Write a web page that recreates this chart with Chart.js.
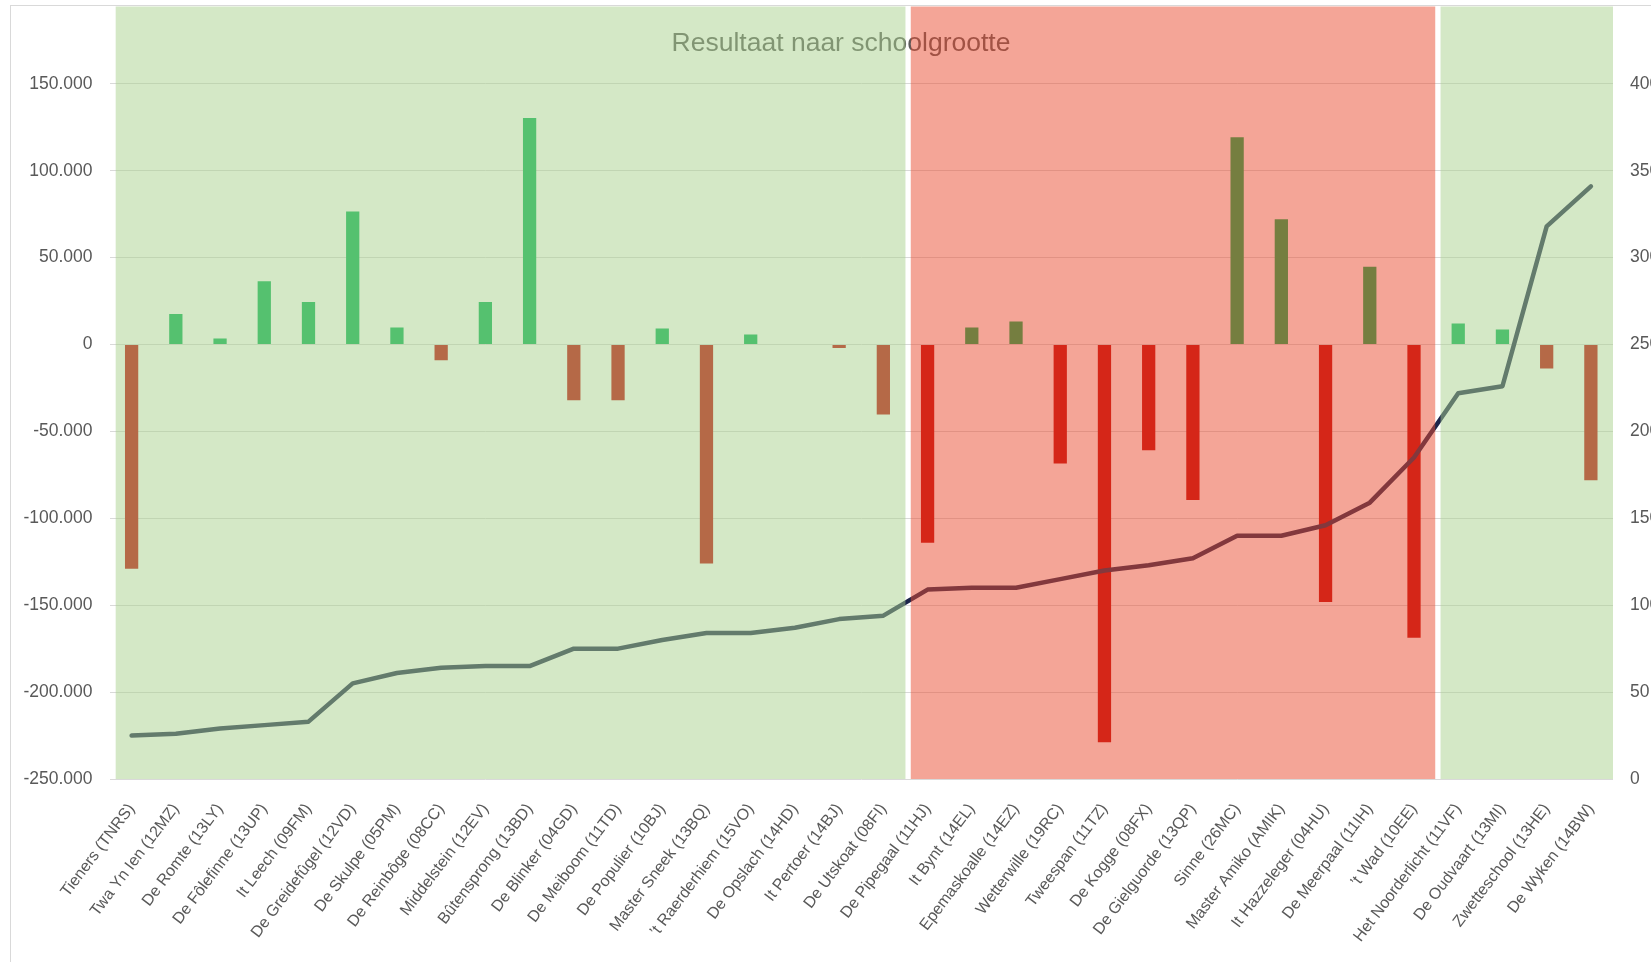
<!DOCTYPE html>
<html><head><meta charset="utf-8">
<script src="https://cdn.jsdelivr.net/npm/chart.js@4"></script>
<style>html,body{margin:0;padding:0;background:#fff;overflow:hidden}canvas{display:block}</style>
</head><body>
<canvas id="c" width="1651" height="962" style="width:1651px;height:962px"></canvas>
<script>
const schools = ["Tieners (TNRS)","Twa Yn Ien (12MZ)","De Romte (13LY)","De Fôlefinne (13UP)","It Leech (09FM)","De Greidefûgel (12VD)","De Skulpe (05PM)","De Reinbôge (08CC)","Middelstein (12EV)","Bûtensprong (13BD)","De Blinker (04GD)","De Meiboom (11TD)","De Populier (10BJ)","Master Sneek (13BQ)","’t Raerderhiem (15VO)","De Opslach (14HD)","It Pertoer (14BJ)","De Utskoat (08FI)","De Pipegaal (11HJ)","It Bynt (14EL)","Epemaskoalle (14EZ)","Wetterwille (19RC)","Tweespan (11TZ)","De Kogge (08FX)","De Gielguorde (13QP)","Sinne (26MC)","Master Amiko (AMIK)","It Hazzeleger (04HU)","De Meerpaal (11IH)","’t Wad (10EE)","Het Noorderlicht (11VF)","De Oudvaart (13MI)","Zwetteschool (13HE)","De Wyken (14BW)"];
const result = [-129000,17600,3500,36400,24500,76600,9800,-9000,24500,130300,-32000,-32000,9200,-126000,5800,300,-2000,-40300,-114000,9800,13200,-68500,-228800,-60900,-89500,119200,72100,-148200,44700,-168700,12100,8600,-13800,-78100];
const pupils = [25,26,29,31,33,55,61,64,65,65,75,75,80,84,84,87,92,94,109,110,110,115,120,123,127,140,140,146,159,185,222,226,318,341];
const leftTicks = [-250000,-200000,-150000,-100000,-50000,0,50000,100000,150000];
const rightTicks = [0,50,100,150,200,250,300,350,400];
const bandFrom = [-0.36, 17.62, 29.6];
const bandTo = [17.5, 29.48, 33.5];
const bandColors = ['rgba(169,209,142,0.5)','rgba(233,75,47,0.5)','rgba(169,209,142,0.5)'];
const titleText = 'Resultaat naar schoolgrootte';

function fmt(v){
  const s = Math.abs(v).toString().replace(/\B(?=(\d{3})+(?!\d))/g,'.');
  return (v<0?'-':'') + s;
}

const FONT = '"Liberation Sans", Arial, sans-serif';
const TXT = '#595959';

const decor = {
  id:'decor',
  beforeDraw(chart){
    const ctx = chart.ctx;
    ctx.save();
    ctx.strokeStyle = '#d9d9d9';
    ctx.lineWidth = 1;
    ctx.strokeRect(10.5, 5.5, 2000, 2000);
    ctx.restore();
  },
  beforeDatasetsDraw(chart){
    const ctx = chart.ctx;
    ctx.save();
    ctx.font = '26.5px ' + FONT;
    ctx.fillStyle = TXT;
    ctx.textAlign = 'center';
    ctx.textBaseline = 'alphabetic';
    ctx.fillText(titleText, 841, 50.5);
    ctx.restore();
  },
  afterDatasetsDraw(chart){
    const ctx = chart.ctx, a = chart.chartArea, xs = chart.scales.x;
    ctx.save();
    for (let i=0;i<bandFrom.length;i++){
      const x1 = xs.getPixelForValue(bandFrom[i]);
      const x2 = xs.getPixelForValue(bandTo[i]);
      ctx.fillStyle = bandColors[i];
      ctx.fillRect(x1, a.top, x2-x1, a.bottom-a.top);
    }
    ctx.restore();
  }
};

new Chart(document.getElementById('c'), {
  data: {
    labels: schools,
    datasets: [
      {type:'line', label:'Leerlingen', data: pupils, yAxisID:'y2', borderColor:'#1c244b', borderWidth:4.5, pointRadius:0, tension:0, borderCapStyle:'round', borderJoinStyle:'round', order:0},
      {type:'bar', label:'Resultaat', data: result, yAxisID:'y', backgroundColor: result.map(v => v>=0 ? '#00B050' : '#C00000'), barPercentage:0.30, categoryPercentage:1, order:1}
    ]
  },
  options: {
    responsive:false, animation:false, devicePixelRatio:1,
    layout:{padding:{top:6.5,left:0,right:0,bottom:0}, autoPadding:false},
    plugins:{legend:{display:false}, tooltip:{enabled:false}, title:{display:false}},
    scales:{
      x:{
        grid:{display:false}, border:{display:false},
        ticks:{autoSkip:false, maxRotation:53, minRotation:53, color:TXT, padding:13, font:{family:FONT, size:16}},
        afterFit(s){ s.height = 183; s.paddingLeft = 0; s.paddingRight = 0; s.paddingTop = 0; s.paddingBottom = 0; }
      },
      y:{
        position:'left', min:-250000, max:194500,
        grid:{color:'#d9d9d9', lineWidth:1, drawTicks:false}, border:{display:false},
        afterBuildTicks(s){ s.ticks = leftTicks.map(v=>({value:v})); },
        ticks:{color:TXT, padding:17, font:{family:FONT, size:17.5}, callback:v=>fmt(v)},
        afterFit(s){ s.width = 109.5; s.paddingTop = 0; s.paddingBottom = 0; }
      },
      y2:{
        position:'right', min:0, max:444.5,
        grid:{display:false, drawTicks:false}, border:{display:false},
        afterBuildTicks(s){ s.ticks = rightTicks.map(v=>({value:v})); },
        ticks:{color:TXT, padding:17, font:{family:FONT, size:17.5}, callback:v=>String(v)},
        afterFit(s){ s.width = 38; s.paddingTop = 0; s.paddingBottom = 0; }
      }
    }
  },
  plugins:[decor]
});
</script>
</body></html>
